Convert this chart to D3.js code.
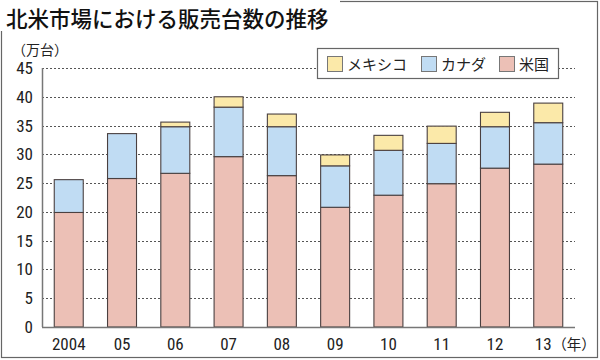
<!DOCTYPE html>
<html><head><meta charset="utf-8">
<script src="https://cdn.jsdelivr.net/npm/d3@7"></script>
<style>
body{margin:0;background:#fff;}
svg{display:block;}
</style></head>
<body>
<script>
const years = ["2004","05","06","07","08","09","10","11","12","13"];
const us     = [19.9, 25.8, 26.7, 29.6, 26.3, 20.8, 22.9, 24.9, 27.6, 28.3];
const canada = [5.7,  7.8,  8.1,  8.6,  8.5,  7.2,  7.8,  7.0,  7.2,  7.2];
const mexico = [0.0,  0.0,  0.8,  1.8,  2.2,  1.9,  2.6,  3.0,  2.5,  3.4];
const yTicks = [0,5,10,15,20,25,30,35,40,45];
const seriesNames = ["米国","カナダ","メキシコ"];
const legendOrder = ["メキシコ","カナダ","米国"];
const colors = {"米国":"#ecc0b6","カナダ":"#c0dcf3","メキシコ":"#fbe9a9"};

const W=600,H=360;
const svg=d3.select("body").append("svg").attr("width",W).attr("height",H);
const numFont="'Liberation Sans Narrow','Roboto Condensed','DejaVu Sans Condensed',sans-serif";
const jpFont="'Noto Sans CJK JP',sans-serif";

// frame
svg.append("rect").attr("x",1.5).attr("y",1.5).attr("width",596).attr("height",356)
  .attr("fill","#fff").attr("stroke","#666").attr("stroke-width",1.2);
svg.append("rect").attr("x",0).attr("y",0).attr("width",340).attr("height",31).attr("fill","#fff");
svg.append("text").attr("x",6).attr("y",27).attr("font-family",jpFont).attr("font-weight",500)
  .attr("font-size",21.5).attr("fill","#111").text("北米市場における販売台数の推移");

const x=d3.scaleBand().domain(years).range([42,575]).paddingInner(0.456).paddingOuter(0.23);
const y=d3.scaleLinear().domain([0,45]).range([327,68]);

// gridlines
svg.append("g").selectAll("line").data(yTicks.filter(d=>d>0)).join("line")
  .attr("x1",42).attr("x2",575).attr("y1",d=>Math.round(y(d))+0.5).attr("y2",d=>Math.round(y(d))+0.5)
  .attr("stroke","#555").attr("stroke-width",1).attr("stroke-dasharray","2,2");

// y axis labels
const yAxis=d3.axisLeft(y).tickValues(yTicks).tickSize(0).tickPadding(9);
const gy=svg.append("g").attr("transform","translate(42,0)").call(yAxis);
gy.select(".domain").remove();
gy.selectAll("text").attr("font-family",numFont).attr("font-size",17).attr("fill","#222");

svg.append("text").attr("x",12).attr("y",55).attr("font-family",jpFont).attr("font-size",14)
  .attr("fill","#222").text("（万台）");

// stacked bars
const data=years.map((yr,i)=>({year:yr,"米国":us[i],"カナダ":canada[i],"メキシコ":mexico[i]}));
const stack=d3.stack().keys(seriesNames)(data);
svg.append("g").selectAll("g").data(stack).join("g")
  .attr("fill",d=>colors[d.key])
  .selectAll("rect").data(d=>d.filter(s=>s[1]-s[0]>0)).join("rect")
  .attr("x",d=>x(d.data.year)).attr("width",x.bandwidth())
  .attr("y",d=>y(d[1])).attr("height",d=>y(d[0])-y(d[1]))
  .attr("stroke","#4a4040").attr("stroke-width",1.1);

// axes lines
svg.append("line").attr("x1",42.5).attr("x2",42.5).attr("y1",68).attr("y2",327).attr("stroke","#777").attr("stroke-width",1.5);
svg.append("line").attr("x1",42).attr("x2",575).attr("y1",327.5).attr("y2",327.5).attr("stroke","#777").attr("stroke-width",1.5);

// x axis labels
const xAxis=d3.axisBottom(x).tickSize(0).tickPadding(11);
const gx=svg.append("g").attr("transform","translate(0,327)").call(xAxis);
gx.select(".domain").remove();
gx.selectAll("text").attr("font-family",numFont).attr("font-size",17).attr("fill","#222")
  .attr("dx",d=>d==="13"?-5:0);
svg.append("text").attr("x",x("13")+x.bandwidth()/2+4).attr("y",350)
  .attr("font-family",jpFont).attr("font-size",14.5).attr("fill","#222").text("（年）");

// legend
const lg=svg.append("g");
lg.append("rect").attr("x",317.5).attr("y",48.5).attr("width",241).attr("height",30)
  .attr("fill","#fff").attr("stroke","#666").attr("stroke-width",1.2);
const legX=[327,421,499];
legendOrder.forEach((k,i)=>{
  lg.append("rect").attr("x",legX[i]+0.5).attr("y",56.5).attr("width",15).attr("height",15)
    .attr("fill",colors[k]).attr("stroke","#777");
  lg.append("text").attr("x",legX[i]+20).attr("y",69.5).attr("font-family",jpFont)
    .attr("font-size",15).attr("fill","#222").text(k);
});
</script>
</body></html>
